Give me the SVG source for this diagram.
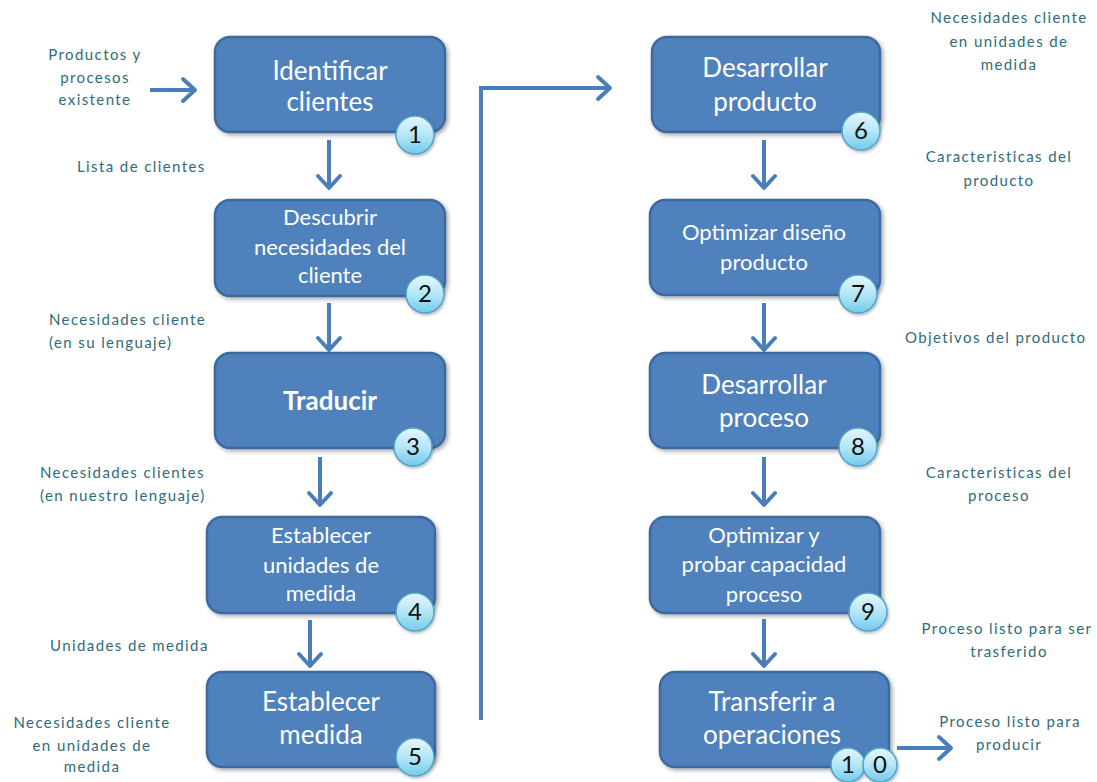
<svg xmlns="http://www.w3.org/2000/svg" width="1097" height="782" viewBox="0 0 1097 782">
<style>
.box{fill:#4f81bd;stroke:#3d6a9e;stroke-width:2.5;filter:url(#sh)}
.bt{font-family:Lato,"Liberation Sans",sans-serif;fill:#ffffff;text-anchor:middle}
.b26{font-size:26px}
.b22{font-size:22px}
.badge{fill:url(#bg);stroke:#4fa3c8;stroke-width:1.5;filter:url(#sh2)}
.bn{font-family:Lato,"Liberation Sans",sans-serif;font-size:24px;fill:#111;text-anchor:middle}
.lb{font-family:Lato,"Liberation Sans",sans-serif;font-size:15px;fill:#2f6b7c;letter-spacing:1.4px}
.c{text-anchor:middle}
.cn{fill:none;stroke:#4a7ebb;stroke-width:4;marker-end:url(#arr)}
</style>
<defs>
<filter id="sh" x="-10%" y="-10%" width="125%" height="130%"><feDropShadow dx="2" dy="2" stdDeviation="2" flood-color="#000" flood-opacity="0.35"/></filter>
<filter id="sh2" x="-30%" y="-30%" width="160%" height="160%"><feDropShadow dx="1" dy="1.5" stdDeviation="1.5" flood-color="#000" flood-opacity="0.3"/></filter>
<linearGradient id="bg" x1="0" y1="0" x2="0" y2="1"><stop offset="0" stop-color="#e4f7fd"/><stop offset="0.5" stop-color="#b5e6f7"/><stop offset="1" stop-color="#72cbec"/></linearGradient>
<marker id="arr" markerUnits="userSpaceOnUse" viewBox="-16 -14 20 28" markerWidth="20" markerHeight="28" refX="0" refY="0" orient="auto" overflow="visible"><path d="M-12,-11 L0,0 L-12,11" fill="none" stroke="#4a7ebb" stroke-width="4" stroke-linejoin="round" stroke-linecap="round"/></marker>
</defs>
<rect width="1097" height="782" fill="#ffffff"/>

<g id="connectors">
<line class="cn" x1="150" y1="90" x2="195" y2="90"/>
<line class="cn" x1="329" y1="140" x2="329" y2="188"/>
<line class="cn" x1="329" y1="303" x2="329" y2="350"/>
<line class="cn" x1="320" y1="457" x2="320" y2="505"/>
<line class="cn" x1="310" y1="620" x2="310" y2="666"/>
<polyline class="cn" points="481,720 481,88 610,88"/>
<line class="cn" x1="764" y1="140" x2="764" y2="188"/>
<line class="cn" x1="764" y1="303" x2="764" y2="350"/>
<line class="cn" x1="764" y1="457" x2="764" y2="505"/>
<line class="cn" x1="764" y1="619" x2="764" y2="666"/>
<line class="cn" x1="897" y1="748" x2="951" y2="748"/>
</g>

<g id="n1"><rect class="box" x="215" y="37" width="230" height="95" rx="15"/>
<text class="bt b26" x="330" y="80">Identificar</text><text class="bt b26" x="330" y="111">clientes</text>
<circle class="badge" cx="415" cy="135" r="19"/><text class="bn" x="415" y="143">1</text></g>

<g id="n2"><rect class="box" x="215" y="200" width="230" height="96" rx="15"/>
<text class="bt b22" x="330" y="225">Descubrir</text><text class="bt b22" x="330" y="255">necesidades del</text><text class="bt b22" x="330" y="283">cliente</text>
<circle class="badge" cx="425" cy="294" r="19"/><text class="bn" x="425" y="302">2</text></g>

<g id="n3"><rect class="box" x="215" y="353" width="230" height="95" rx="15"/>
<text class="bt b26" x="330" y="410" font-weight="bold">Traducir</text>
<circle class="badge" cx="413" cy="447" r="19"/><text class="bn" x="413" y="455">3</text></g>

<g id="n4"><rect class="box" x="207" y="517" width="228" height="96" rx="15"/>
<text class="bt b22" x="321" y="543">Establecer</text><text class="bt b22" x="321" y="573">unidades de</text><text class="bt b22" x="321" y="601">medida</text>
<circle class="badge" cx="415" cy="612" r="19"/><text class="bn" x="415" y="620">4</text></g>

<g id="n5"><rect class="box" x="207" y="672" width="228" height="95" rx="15"/>
<text class="bt b26" x="321" y="711">Establecer</text><text class="bt b26" x="321" y="744">medida</text>
<circle class="badge" cx="415" cy="757" r="19"/><text class="bn" x="415" y="765">5</text></g>

<g id="n6"><rect class="box" x="652" y="37" width="228" height="95" rx="15"/>
<text class="bt b26" x="765" y="77">Desarrollar</text><text class="bt b26" x="765" y="111">producto</text>
<circle class="badge" cx="861" cy="131" r="19"/><text class="bn" x="861" y="139">6</text></g>

<g id="n7"><rect class="box" x="650" y="200" width="230" height="95" rx="15"/>
<text class="bt b22" x="764" y="240">Optimizar diseño</text><text class="bt b22" x="764" y="270">producto</text>
<circle class="badge" cx="858" cy="294" r="19"/><text class="bn" x="858" y="302">7</text></g>

<g id="n8"><rect class="box" x="650" y="353" width="230" height="95" rx="15"/>
<text class="bt b26" x="764" y="394">Desarrollar</text><text class="bt b26" x="764" y="427">proceso</text>
<circle class="badge" cx="858" cy="447" r="19"/><text class="bn" x="858" y="455">8</text></g>

<g id="n9"><rect class="box" x="650" y="517" width="230" height="96" rx="15"/>
<text class="bt b22" x="764" y="543">Optimizar y</text><text class="bt b22" x="764" y="572">probar capacidad</text><text class="bt b22" x="764" y="602">proceso</text>
<circle class="badge" cx="868" cy="612" r="19"/><text class="bn" x="868" y="620">9</text></g>

<g id="n10"><rect class="box" x="660" y="672" width="229" height="95" rx="15"/>
<text class="bt b26" x="772" y="711">Transferir a</text><text class="bt b26" x="772" y="744">operaciones</text>
<circle class="badge" cx="848" cy="765" r="17"/><text class="bn" x="848" y="773">1</text>
<circle class="badge" cx="880" cy="765" r="17"/><text class="bn" x="880" y="773">0</text></g>

<g id="labels">
<text class="lb c" x="95" y="60">Productos y</text>
<text class="lb c" x="95" y="83">procesos</text>
<text class="lb c" x="95" y="105">existente</text>
<text class="lb" x="77" y="172">Lista de clientes</text>
<text class="lb" x="49" y="325">Necesidades cliente</text>
<text class="lb" x="49" y="348">(en su lenguaje)</text>
<text class="lb" x="40" y="478">Necesidades clientes</text>
<text class="lb" x="40" y="501">(en nuestro lenguaje)</text>
<text class="lb" x="50" y="651">Unidades de medida</text>
<text class="lb c" x="92" y="728">Necesidades cliente</text>
<text class="lb c" x="92" y="751">en unidades de</text>
<text class="lb c" x="92" y="772">medida</text>
<text class="lb c" x="1009" y="23">Necesidades cliente</text>
<text class="lb c" x="1009" y="47">en unidades de</text>
<text class="lb c" x="1009" y="70">medida</text>
<text class="lb c" x="999" y="162">Caracteristicas del</text>
<text class="lb c" x="999" y="186">producto</text>
<text class="lb" x="905" y="343">Objetivos del producto</text>
<text class="lb c" x="999" y="478">Caracteristicas del</text>
<text class="lb c" x="999" y="501">proceso</text>
<text class="lb c" x="1007" y="634">Proceso listo para ser</text>
<text class="lb c" x="1009" y="657">trasferido</text>
<text class="lb c" x="1010" y="727">Proceso listo para</text>
<text class="lb c" x="1009" y="750">producir</text>
</g>
</svg>
